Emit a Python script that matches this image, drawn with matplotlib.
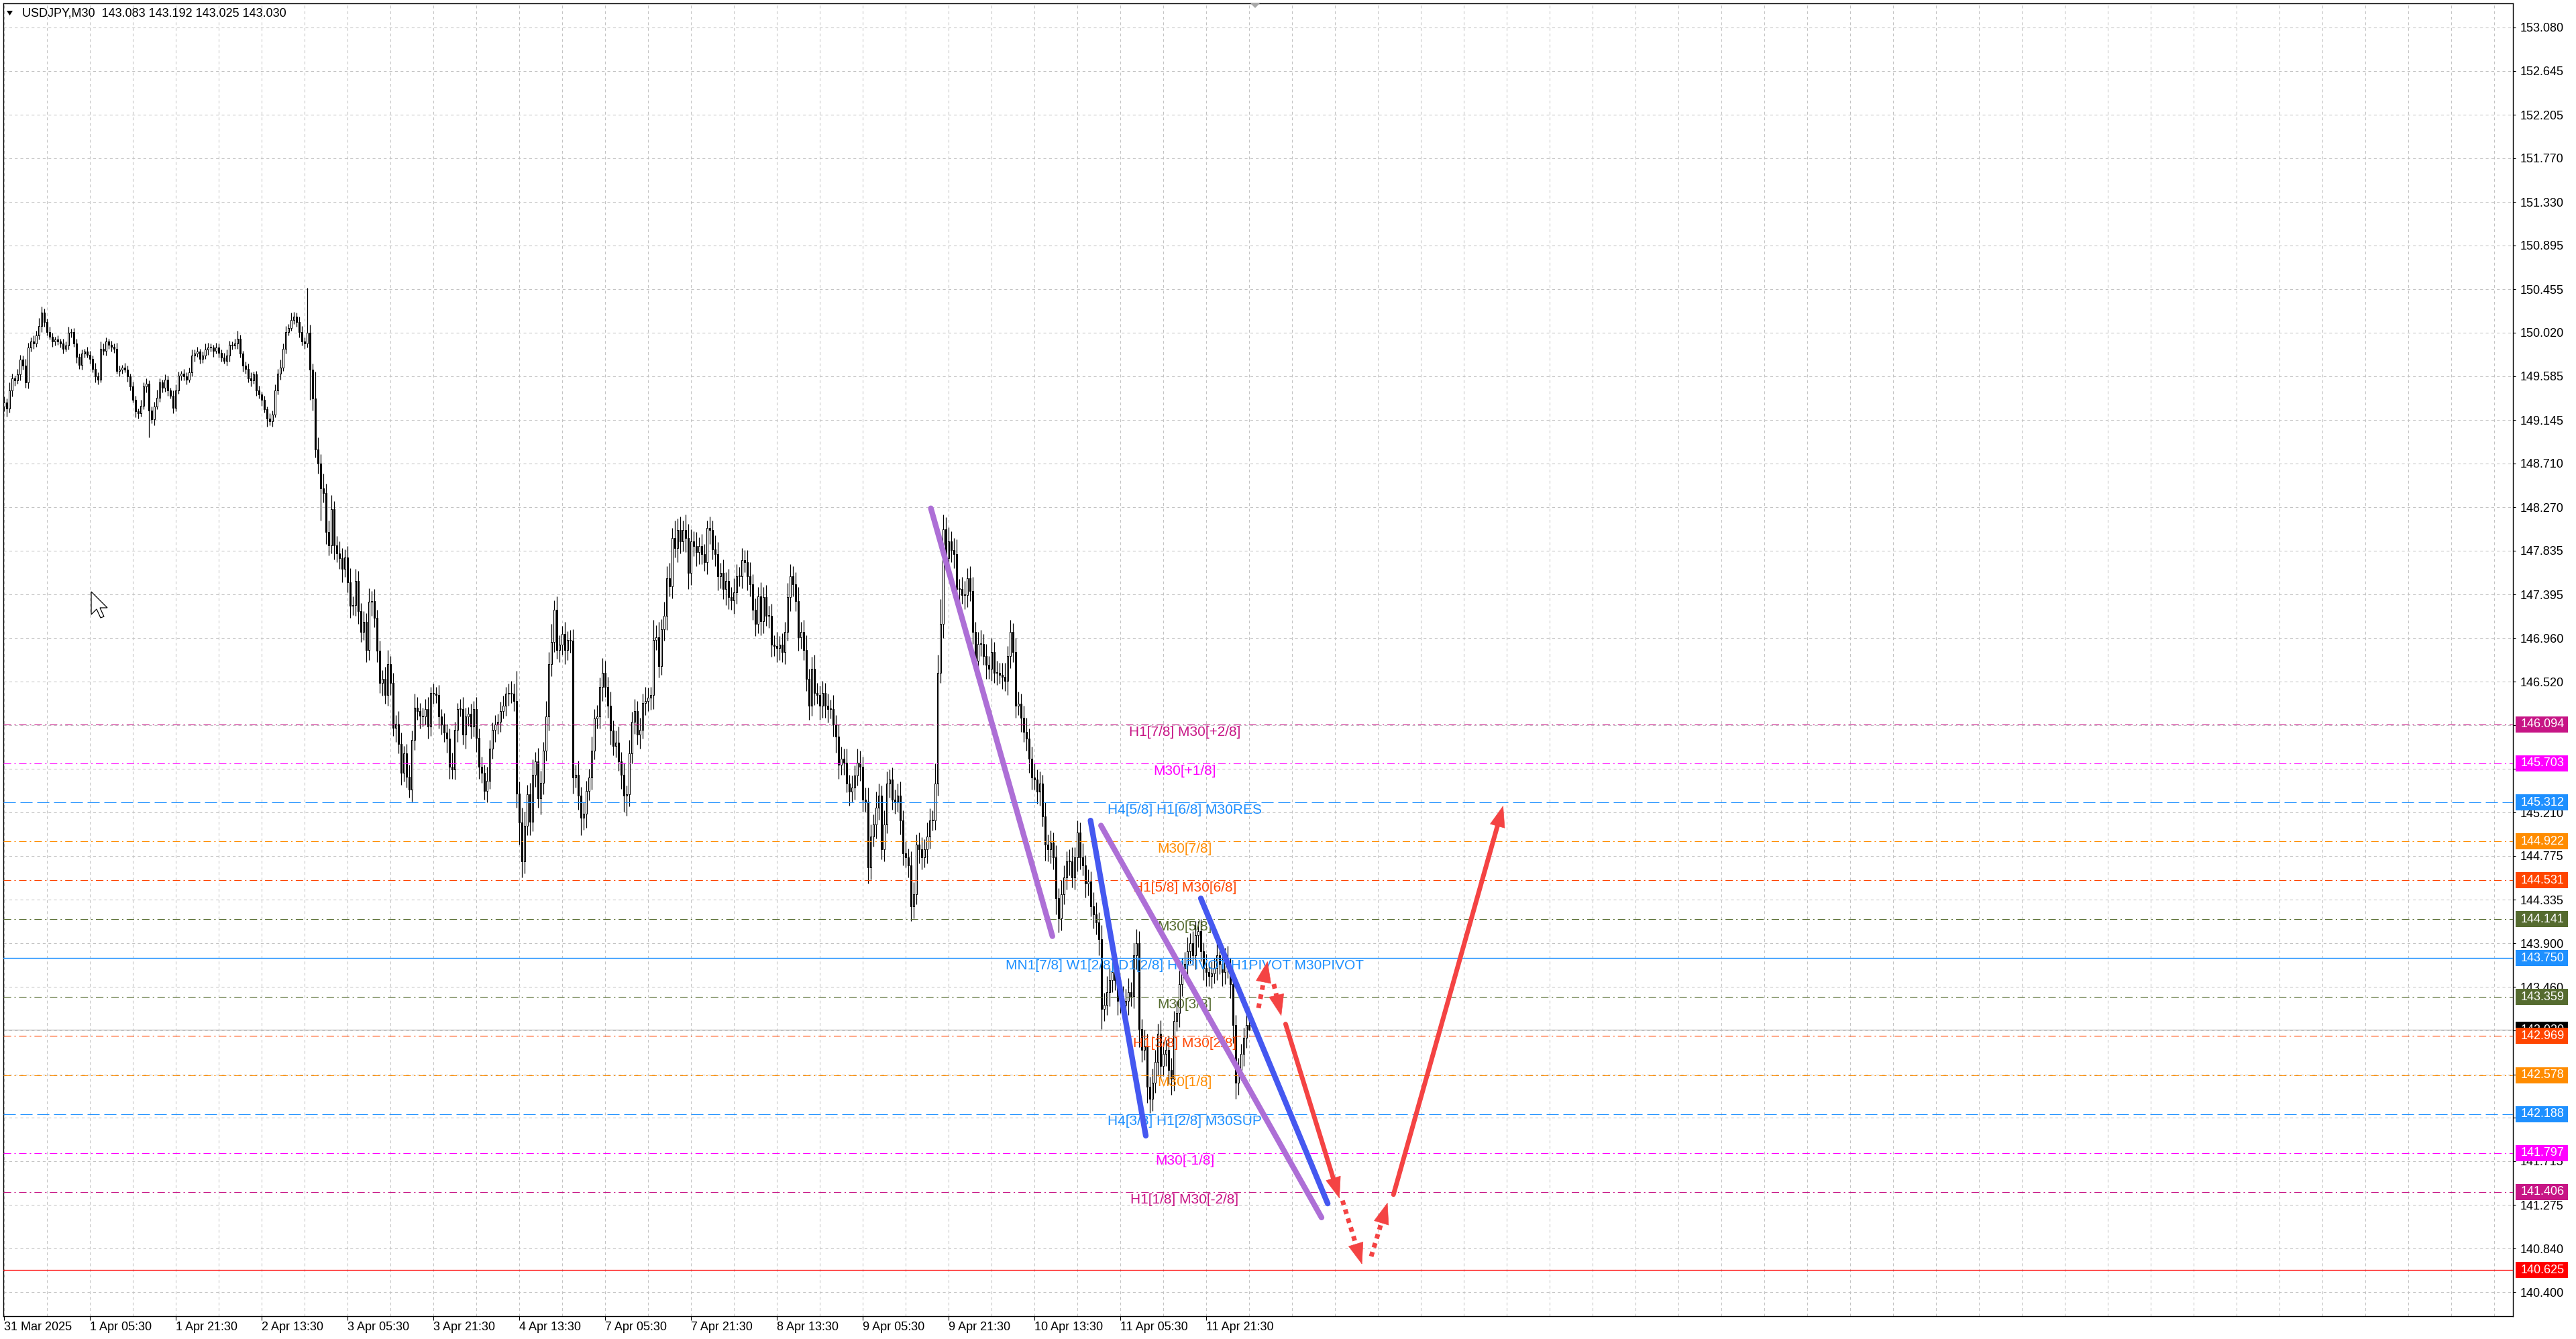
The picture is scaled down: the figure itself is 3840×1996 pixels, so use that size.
import numpy as np
import matplotlib.pyplot as plt
import matplotlib.transforms as mtransforms
from matplotlib.patches import Rectangle, Polygon

plt.rcParams['font.family'] = ['Liberation Sans', 'DejaVu Sans']
plt.rcParams['lines.scale_dashes'] = False

# ─────────────────────────────────────────────
# data, USDJPY M30
# ─────────────────────────────────────────────
close_31mar_2apr = [
    149.32, 149.26, 149.44, 149.56, 149.54, 149.60, 149.75, 149.69, 149.52, 149.87,
    149.93, 149.91, 149.99, 150.09, 150.22, 150.13, 150.03, 149.98, 149.93, 149.95,
    149.93, 149.91, 149.86, 149.89, 150.02, 150.03, 149.91, 149.78, 149.70, 149.81,
    149.83, 149.80, 149.76, 149.66, 149.58, 149.55, 149.86, 149.84, 149.93, 149.90,
    149.88, 149.86, 149.64, 149.65, 149.67, 149.65, 149.58, 149.48, 149.35, 149.23,
    149.21, 149.29, 149.48, 149.51, 149.24, 149.15, 149.28, 149.37, 149.52, 149.47,
    149.55, 149.44, 149.39, 149.27, 149.44, 149.59, 149.61, 149.58, 149.55, 149.62,
    149.79, 149.81, 149.83, 149.76, 149.79, 149.85, 149.87, 149.87, 149.84, 149.87,
    149.82, 149.77, 149.74, 149.79, 149.90, 149.89, 149.91, 149.96, 149.81, 149.69,
    149.66, 149.56, 149.54, 149.60, 149.44, 149.40, 149.35, 149.25, 149.16, 149.13,
    149.20, 149.44, 149.61, 149.67, 149.86, 150.03, 150.07, 150.15, 150.18, 150.13,
    150.03, 149.93, 149.91, 150.02, 149.65, 149.36, 148.85, 148.71, 148.46, 148.41,
    148.02, 147.89, 148.25, 147.89, 147.81, 147.76, 147.65, 147.77, 147.52, 147.28,
    147.29, 147.53, 147.23, 147.02, 147.12, 146.84, 147.32, 147.33, 147.16, 146.83,
    146.51, 146.55, 146.39, 146.70, 146.51, 146.06, 146.10, 145.90, 145.61, 145.80,
    145.57, 145.44, 145.94, 146.26, 146.23, 146.18,
]
close_3apr_8apr = [
    146.17, 146.25, 146.07, 146.41, 146.40, 146.39, 146.17, 146.09, 146.01, 145.95,
    145.67, 145.64, 146.04, 146.25, 146.25, 145.99, 146.17, 146.20, 146.07, 146.25,
    145.96, 145.67, 145.61, 145.43, 145.53, 145.85, 146.04, 146.09, 146.12, 146.23,
    146.28, 146.40, 146.41, 146.40, 146.33, 145.40, 145.11, 144.72, 145.08, 145.39,
    145.12, 145.59, 145.72, 145.35, 145.51, 145.83, 146.17, 146.70, 146.92, 147.24,
    146.84, 146.89, 147.00, 146.84, 146.94, 146.93, 145.56, 145.59, 145.38, 145.16,
    145.20, 145.43, 145.56, 145.83, 146.15, 146.17, 146.47, 146.61, 146.47, 146.28,
    146.03, 145.88, 145.91, 145.72, 145.59, 145.38, 145.39, 145.80, 146.12, 146.23,
    145.99, 146.04, 146.31, 146.33, 146.36, 146.39, 146.94, 146.97, 146.68, 147.05,
    147.18, 147.56, 147.48, 147.96, 147.86, 148.04, 147.93, 148.04, 147.96, 147.61,
    147.93, 147.88, 147.82, 147.88, 147.80, 147.72, 148.06, 148.04, 147.85, 147.80,
    147.58, 147.61, 147.45, 147.53, 147.37, 147.34, 147.42, 147.58, 147.58, 147.74,
    147.72, 147.58, 147.50, 147.24, 147.10, 147.38, 147.13, 147.37, 147.18, 147.18,
    146.89, 146.88, 146.86, 146.89, 146.82, 147.02, 147.37, 147.58, 147.50, 147.33,
    146.97, 147.02, 146.84, 146.55, 146.28, 146.65, 146.41, 146.39, 146.28, 146.41,
    146.28, 146.25, 146.25, 146.09, 145.97, 145.69,
]
close_8apr_11apr = [
    145.75, 145.71, 145.50, 145.42, 145.46, 145.58, 145.71, 145.67, 145.34, 145.32,
    144.66, 144.97, 145.09, 145.26, 145.38, 144.84, 145.09, 145.50, 145.54, 145.34,
    145.32, 145.38, 145.13, 144.80, 144.76, 144.68, 144.27, 144.39, 144.89, 144.84,
    144.76, 144.84, 144.97, 145.13, 145.13, 145.50, 146.61, 147.10, 148.05, 147.76,
    147.93, 147.84, 147.80, 147.45, 147.45, 147.39, 147.39, 147.56, 147.43, 147.02,
    146.73, 146.90, 146.90, 146.78, 146.69, 146.65, 146.82, 146.61, 146.61, 146.59,
    146.57, 146.53, 146.78, 147.02, 146.82, 146.28, 146.30, 146.16, 146.02, 145.95,
    145.75, 145.56, 145.54, 145.42, 145.50, 145.17, 144.89, 144.84, 144.91, 144.76,
    144.35, 144.15, 144.39, 144.56, 144.72, 144.72, 144.56, 144.76, 145.01, 144.76,
    144.68, 144.50, 144.52, 144.27, 144.19, 144.11, 143.94, 143.24, 143.28, 143.41,
    143.53, 143.61, 143.53, 143.32, 143.37, 143.28, 143.32, 143.41, 143.37, 143.78,
    143.90, 143.04, 142.83, 142.87, 142.46, 142.34, 142.50, 142.71, 142.99, 142.67,
    142.79, 142.83, 142.63, 142.54, 143.12, 143.20, 143.49, 143.65, 143.69, 143.82,
    143.90, 143.78, 143.98, 144.02, 143.82, 143.65, 143.61, 143.57, 143.60, 143.65,
    143.78, 143.69, 143.61, 143.73, 143.65, 143.49, 143.08, 142.50, 142.63, 142.79,
    142.95, 143.08, 143.03,
]
first_open = 149.28

# wick lengths in pips (0.01), upper and lower, one per bar
wick_up = """
6 4 8 5 3 6 5 4 7 5  4 6 5 8 6 4 3 5 4 3  4 3 5 4 6 3 4 5 3 4  3 5 4 3 6 4 7 5 4 3
4 3 6 4 3 5 4 3 5 4  3 6 4 5 3 4 5 8 4 3  5 4 3 5 6 4 3 5 4 5  6 4 5 3 4 6 5 4 3 5
4 3 5 6 4 3 5 8 4 3  4 5 6 3 4 5 3 4 3 5  4 6 5 8 5 6 4 7 5 4  5 6 4 45 8 6 27 12 9 15
10 12 14 8 9 12 10 8 11 14  9 12 10 8 11 9 14 10 12 8  10 9 12 14 8 10 9 13 11 8  10 12 9 14 11 8
8 10 12 6 9 7 10 8 12 9  10 14 8 6 10 12 9 7 10 8  12 9 10 8 14 9 7 10 8 9  10 7 9 12 10 30 12 15 14 10
12 15 10 14 12 9 16 12 18 10  14 10 8 12 9 10 12 10 14 9  12 10 9 14 10 12 9 15 12 10  14 10 12 16 10 12 9 14 10 12
10 12 9 14 10 8 20 12 15 10  14 12 15 10 18 12 14 10 16 14  12 10 14 9 12 10 8 12 10 14  12 10 14 9 12 10 14 12 9 12
10 12 14 10 12 9 14 10 12 10  12 10 14 9 12 10 14 12 10 12  14 10 12 15 10 12 14 10 9 12  10 12 9 14 10 12
12 10 14 9 12 10 14 12 10 12  14 12 10 16 12 10 14 12 10 12  10 12 14 10 12 9 14 12 10 12  12 10 14 12 10 20 18 25 15 12
14 10 12 15 10 12 14 10 12 14  10 12 14 10 12 9 14 10 12 10  12 14 10 12 9 14 12 10 12 14  10 12 14 10 12 9 14 10 12 10
12 10 14 12 10 12 14 10 12 10  14 10 12 10 14 12 10 14 12 16  12 10 14 12 16 10 12 14 10 12  14 12 10 16 12 10 14 12 10 14
12 10 14 12 10 12 14 10 12 14  10 12 14 10 12 9 14 10 12 10  12 14 10 12 14 10 12 10 12 10  10 12 11
"""
wick_dn = """
5 8 4 6 5 3 6 4 5 6  4 5 3 4 6 5 4 3 5 4  3 4 5 3 4 5 3 6 4 5  4 3 5 4 6 5 3 4 5 4
5 4 3 6 4 3 5 4 3 6  5 3 4 6 27 4 6 3 4 5  4 5 3 6 4 3 5 4 5 3  4 6 3 5 4 3 5 4 6 3
5 4 3 5 6 4 3 5 4 6  5 4 6 3 5 4 6 3 8 4  5 3 4 6 3 5 4 3 4 5  6 4 5 4 30 12 8 10 32 9
12 10 8 14 9 11 13 8 10 12  9 11 13 10 8 12 10 14 9 11  10 13 9 11 12 8 14 10 12 9  11 8 12 10 9 13
10 8 12 9 10 8 12 10 9 14  12 9 10 12 8 10 14 9 12 10  14 12 10 9 12 8 10 12 9 10  8 10 12 9 10 14 22 16 12 10
14 10 12 9 16 12 10 14 12 10  9 12 10 14 10 12 16 10 14 18  12 14 10 12 9 10 12 14 10 12  14 10 12 9 14 16 20 12 10 12
10 14 9 12 10 12 14 10 12 9  12 14 10 12 9 14 12 10 14 16  12 10 14 12 10 9 12 14 10 12  14 12 10 16 12 10 14 12 10 12
10 14 12 10 12 9 14 12 10 12  12 10 14 12 10 12 9 14 12 10  14 12 10 12 14 10 12 9 14 12  12 14 10 12 16 14
10 12 9 14 10 12 10 14 12 10  16 12 10 14 12 10 12 9 14 10  12 10 14 12 10 12 15 12 10 14  12 10 14 12 10 9 12 10 14 12
10 12 14 10 12 9 14 12 10 12  14 10 12 9 14 10 12 10 12 9  12 10 14 12 10 12 9 14 10 12  14 12 10 12 14 10 16 12 14 12
16 14 12 10 12 14 10 12 14 12  10 14 12 10 14 12 16 20 12 10  14 12 10 14 12 10 12 14 10 12  14 18 12 10 16 14 12 10 14 12
10 12 14 16 12 10 14 12 10 12  12 10 14 12 10 12 14 10 12 10  12 10 14 12 10 14 18 16 12 10  12 10 0.5
"""

time_labels = ['31 Mar 2025', '1 Apr 05:30', '1 Apr 21:30', '2 Apr 13:30', '3 Apr 05:30',
               '3 Apr 21:30', '4 Apr 13:30', '7 Apr 05:30', '7 Apr 21:30', '8 Apr 13:30',
               '9 Apr 05:30', '9 Apr 21:30', '10 Apr 13:30', '11 Apr 05:30', '11 Apr 21:30']
label_bars = list(range(0, 449, 32))

price_ticks = [153.080, 152.645, 152.205, 151.770, 151.330, 150.895, 150.455, 150.020,
               149.585, 149.145, 148.710, 148.270, 147.835, 147.395, 146.960, 146.520,
               146.085, 145.650, 145.210, 144.775, 144.335, 143.900, 143.460, 143.025,
               142.585, 142.150, 141.715, 141.275, 140.840, 140.400]
# scale labels that sit fully under a coloured price box in the screenshot
hidden_ticks = [146.085, 145.650, 143.025, 142.585, 142.150]

# Murrey math levels
level_prices = [146.094, 145.703, 145.312, 144.922, 144.531, 144.141, 143.750,
                143.359, 142.969, 142.578, 142.188, 141.797, 141.406]
level_names = ['H1[7/8] M30[+2/8]', 'M30[+1/8]', 'H4[5/8] H1[6/8] M30RES', 'M30[7/8]',
               'H1[5/8] M30[6/8]', 'M30[5/8]',
               'MN1[7/8] W1[2/8] D1[2/8] H4PIVOT H1PIVOT M30PIVOT',
               'M30[3/8]', 'H1[3/8] M30[2/8]', 'M30[1/8]', 'H4[3/8] H1[2/8] M30SUP',
               'M30[-1/8]', 'H1[1/8] M30[-2/8]']
last_price = 143.030
target_price = 140.625
header = 'USDJPY,M30  143.083 143.192 143.025 143.030'

# hand drawn objects: (bar, price) -> (bar, price)
purple_lines = [((345.4, 148.26), (390.7, 143.97)), ((408.8, 145.08), (491.0, 141.15))]
blue_lines = [((404.9, 145.13), (425.5, 141.97)), ((446.0, 144.35), (493.3, 141.29))]
arrows_solid = [((477.6, 143.09), (497.7, 141.34)), ((517.8, 141.38), (558.7, 145.28))]
arrows_dotted = [((467.5, 143.25), (470.9, 143.72)), ((473.2, 143.49), (476.0, 143.17)),
                 ((498.8, 141.32), (506.1, 140.68)), ((509.5, 140.76), (515.6, 141.30))]

# ─────────────────────────────────────────────
# styles
# ─────────────────────────────────────────────
C_MVR = '#C71585'
C_MAG = '#FF00FF'
C_BLUE = '#1E90FF'
C_ORG = '#FF8C00'
C_ORED = '#FF4500'
C_OLIVE = '#556B2F'
DASHDOT = (0, (8, 3.5, 1.5, 3.5))
DASH = (0, (13, 5))
level_colors = [C_MVR, C_MAG, C_BLUE, C_ORG, C_ORED, C_OLIVE, C_BLUE,
                C_OLIVE, C_ORED, C_ORG, C_BLUE, C_MAG, C_MVR]
level_styles = [DASHDOT, DASHDOT, DASH, DASHDOT, DASHDOT, DASHDOT, '-',
                DASHDOT, DASHDOT, DASHDOT, DASH, DASHDOT, DASHDOT]
PURPLE = '#AD6FD6'
BLUE = '#4558F0'
RED = '#F44343'

W, H = 3840, 1996


def fpx(x, y):
    # pixel (from top-left) -> figure fraction
    return (x / W, 1 - y / H)


fig = plt.figure(figsize=(W / 100, H / 100), dpi=100)
ax = fig.add_axes([5 / W, 1 - 1962 / H, (3746 - 5) / W, (1962 - 5) / H])
ax.set_xlim(-0.25, 935)
ax.set_ylim(140.161, 153.322)

# ─────────────────────────────────────────────
# candles
# ─────────────────────────────────────────────
close = np.array(close_31mar_2apr + close_3apr_8apr + close_8apr_11apr)
n = len(close)
opn = np.concatenate([[first_open], close[:-1]])
up = np.array(wick_up.split(), float) / 100
dn = np.array(wick_dn.split(), float) / 100
high = np.maximum(opn, close) + up[:n]
low = np.minimum(opn, close) - dn[:n]
x = np.arange(n)
bull = close >= opn

ax.vlines(x, low, high, color='black', lw=0.9, zorder=3)
ax.bar(x, np.maximum(np.abs(close - opn), 0.007), bottom=np.minimum(opn, close),
       width=0.72, color=np.where(bull, 'white', 'black'), edgecolor='black',
       linewidth=0.75, zorder=4)

# grid
for v in range(0, 936, 16):
    ax.axvline(v, color='#C3C3C3', lw=0.75, ls=(0, (3, 3)), zorder=1)
for p in price_ticks:
    ax.axhline(p, color='#C3C3C3', lw=0.75, ls=(0, (3, 3)), zorder=1)

# current price & target
ax.axhline(last_price, color='#C0C0C0', lw=1.0, zorder=2)
ax.axhline(target_price, color='#FF0000', lw=0.9, zorder=5)

# levels
for p, name, c, ls in zip(level_prices, level_names, level_colors, level_styles):
    ax.axhline(p, color=c, lw=1.0 if ls == '-' else 0.8, ls=ls, zorder=5)
    ax.text(440, p - 0.012, name, color=c, fontsize=15, ha='center', va='top', zorder=6)

# trend lines
for (a, b) in purple_lines:
    ax.plot([a[0], b[0]], [a[1], b[1]], color=PURPLE, lw=6, solid_capstyle='round', zorder=7)
for (a, b) in blue_lines:
    ax.plot([a[0], b[0]], [a[1], b[1]], color=BLUE, lw=6, solid_capstyle='round', zorder=7)


def back_off(a, b, px):
    d0 = ax.transData.transform(a)
    d1 = ax.transData.transform(b)
    v = d1 - d0
    e = d1 - v / np.hypot(*v) * px
    return ax.transData.inverted().transform(e)


def head(a, b):
    s = back_off(a, b, 4)
    ax.annotate('', xy=b, xytext=s, zorder=8,
                arrowprops=dict(arrowstyle='-|>,head_length=2.2,head_width=0.8',
                                mutation_scale=10, color=RED, lw=0.5,
                                shrinkA=0, shrinkB=0))


for (a, b) in arrows_solid:
    e = back_off(a, b, 22)
    ax.plot([a[0], e[0]], [a[1], e[1]], color=RED, lw=5, solid_capstyle='round', zorder=8)
    head(a, b)
for (a, b) in arrows_dotted:
    e = back_off(a, b, 22)
    ax.plot([a[0], e[0]], [a[1], e[1]], color=RED, lw=5, ls=(0, (5, 5)),
            dash_capstyle='butt', zorder=8)
    head(a, b)

# ─────────────────────────────────────────────
# axes
# ─────────────────────────────────────────────
ax.yaxis.tick_right()
ax.set_yticks(price_ticks)
ax.set_yticklabels(['' if p in hidden_ticks else f'{p:.3f}' for p in price_ticks])
ax.tick_params(axis='y', direction='out', length=3, width=0.8, pad=5, labelsize=13)
ax.set_xticks(label_bars)
ax.set_xticklabels(time_labels)
ax.tick_params(axis='x', direction='out', length=4, width=0.8, pad=2, labelsize=13)
for lab in ax.get_xticklabels():
    lab.set_ha('left')
for s in ax.spines.values():
    s.set_color('black')
    s.set_linewidth(1.0)

# price boxes on the scale
trans = mtransforms.blended_transform_factory(ax.transAxes, ax.transData)
bh = 24 / 148.7
boxes = [(last_price, 'black')] + list(zip(level_prices, level_colors)) + [(target_price, '#FF0000')]
for i, (p, c) in enumerate(boxes):
    ax.add_patch(Rectangle((1.0011, p - bh / 2), 0.0209, bh, transform=trans,
                           facecolor=c, edgecolor='none', clip_on=False, zorder=10 + i))
    ax.text(1.0030, p, f'{p:.3f}', transform=trans, color='white', fontsize=13,
            ha='left', va='center', clip_on=False, zorder=10 + i)

# header
fig.patches.append(Polygon([fpx(10, 16), fpx(19, 16), fpx(14.5, 23)], closed=True,
                           transform=fig.transFigure, facecolor='black', edgecolor='none'))
fig.text(*fpx(33, 20), header, fontsize=13, va='center', ha='left')

# shift marker and mouse cursor
fig.patches.append(Polygon([fpx(1863, 4), fpx(1879, 4), fpx(1871, 12)], closed=True,
                           transform=fig.transFigure, facecolor='#A8A8A8', edgecolor='none'))
cur = [(0, 0), (0, 17), (4, 13), (7, 19.5), (9.5, 18.5), (6.5, 12), (12, 12)]
fig.patches.append(Polygon([fpx(136 + 2.0 * a, 882 + 2.0 * b) for a, b in cur], closed=True,
                           transform=fig.transFigure, facecolor='white',
                           edgecolor='black', linewidth=0.9))

fig.savefig('out.png', dpi=100, facecolor='white')
